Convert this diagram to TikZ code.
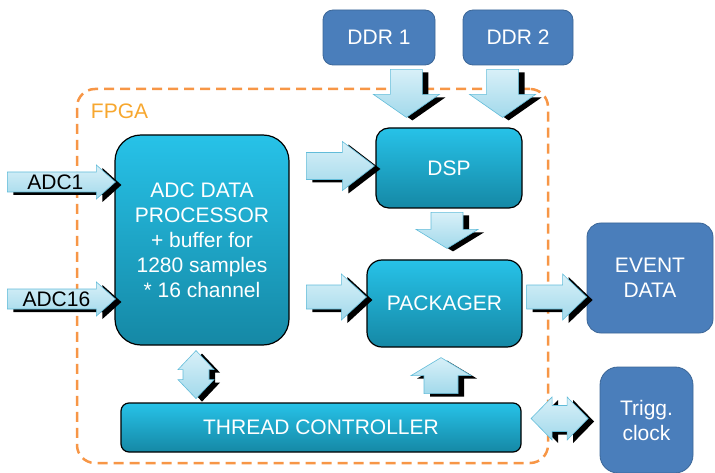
\documentclass[tikz,border=0pt]{standalone}
\usepackage{fontspec}
\setmainfont{Liberation Sans}
\usetikzlibrary{calc,shadows}
\definecolor{tealtop}{HTML}{27C2E8}
\definecolor{tealbot}{HTML}{1588A5}
\definecolor{extblue}{HTML}{4A7EBB}
\definecolor{extline}{HTML}{3B6697}
\definecolor{flowtop}{HTML}{D8F0F8}
\definecolor{flowbot}{HTML}{A2D9EB}
\definecolor{flowline}{HTML}{62BCD9}
\definecolor{fpgaline}{HTML}{F79646}
\definecolor{fpgatext}{HTML}{F7A72E}
\tikzset{
  unit/.style={draw=black, line width=1.2pt, top color=tealtop, bottom color=tealbot,
    text=white, align=center, inner sep=0pt},
  extbox/.style={draw=extline, line width=0.8pt, fill=extblue, rounded corners=10pt,
    text=white, align=center, inner sep=0pt},
  flowfill/.style={draw=flowline, line width=0.6pt, top color=flowtop, bottom color=flowbot,
    drop shadow={shadow xshift=6pt, shadow yshift=-3pt, fill=black, opacity=1}},
  % length, half shaft, half head, head length
  pics/flow/.style n args={4}{code={
    \path[flowfill] (0,0) -- (-#4,#3) -- (-#4,#2) -- (-#1,#2) -- (-#1,-#2)
      -- (-#4,-#2) -- (-#4,-#3) -- cycle;
  }},
  % half length, half shaft, half head, head length
  pics/flowtwo/.style n args={4}{code={
    \path[flowfill] (#1,0) -- (#1-#4,#3) -- (#1-#4,#2) -- (-#1+#4,#2) -- (-#1+#4,#3)
      -- (-#1,0) -- (-#1+#4,-#3) -- (-#1+#4,-#2) -- (#1-#4,-#2) -- (#1-#4,-#3) -- cycle;
  }},
}
\begin{document}
\begin{tikzpicture}[x=1pt,y=-1pt,every node/.style={font=\fontsize{21}{25}\selectfont}]
  \useasboundingbox (0,0) rectangle (715,473);
  % fpga frame
  \node[draw=fpgaline, line width=2.5pt, dash pattern=on 10pt off 6pt, rounded corners=18pt,
    minimum width=471pt, minimum height=374pt, inner sep=0pt] (fpga) at (312.5,276) {};
  \node[anchor=west, text=fpgatext, inner sep=0pt] (fpgalbl) at ($(fpga.north west)+(15,24)$) {FPGA};
  % blocks
  \node[extbox, minimum width=112pt, minimum height=55pt] (ddr1) at (379,37.5) {DDR 1};
  \node[extbox, minimum width=110pt, minimum height=55pt] (ddr2) at (518,37.5) {DDR 2};
  \node[unit, rounded corners=13pt, minimum width=146pt, minimum height=80pt] (dsp) at (449,168) {DSP};
  \node[unit, rounded corners=26pt, minimum width=174pt, minimum height=210pt] (adc) at (202,240)
    {ADC DATA\\PROCESSOR\\+ buffer for\\1280 samples\\* 16 channel};
  \node[unit, rounded corners=15pt, minimum width=155pt, minimum height=87pt] (pack) at (444.5,303.5) {PACKAGER};
  \node[unit, rounded corners=8pt, minimum width=400pt, minimum height=49pt] (thread) at (321,427.5) {THREAD CONTROLLER};
  \node[extbox, rounded corners=14pt, minimum width=126pt, minimum height=110pt] (event) at (650,278) {EVENT\\DATA};
  \node[extbox, rounded corners=18pt, minimum width=93pt, minimum height=106pt] (trigg) at (646.5,420) {Trigg.\\clock};
  % flow arrows
  \pic at ($(adc.west)+(1,-58)$) {flow={108}{10}{17}{19}};
  \pic at ($(adc.west)+(1,59)$) {flow={108}{10}{17}{19}};
  \node[inner sep=0pt] (adc1lbl) at ($(adc.west)+(-59,-58)$) {ADC1};
  \node[inner sep=0pt] (adc16lbl) at ($(adc.west)+(-58,59)$) {ADC16};
  \pic[rotate=-90] at ($(dsp.north west)+(31,-10)$) {flow={48}{16}{33}{23}};
  \pic[rotate=-90] at ($(dsp.north east)+(-20,-10)$) {flow={48}{16}{33}{23}};
  \pic at ($(dsp.west)+(-1,-2)$) {flow={68}{13.5}{24.5}{32}};
  \pic[rotate=-90] at ($(pack.north)+(2.5,-11)$) {flow={36}{16}{31}{19}};
  \pic at ($(pack.west)+(0,-6.5)$) {flow={60}{12}{23}{25}};
  \pic at ($(event.west)+(0,19)$) {flow={60}{12}{23}{24}};
  \pic[rotate=90] at ($(pack.south)+(-3.5,10)$) {flow={36}{17}{30}{18}};
  \pic[rotate=90] at ($(adc.south)+(-6,29)$) {flowtwo={24}{13}{18}{19}};
  \pic at ($(thread.east)+(38,-9)$) {flowtwo={28.5}{13}{21.5}{21}};
\end{tikzpicture}
\end{document}
